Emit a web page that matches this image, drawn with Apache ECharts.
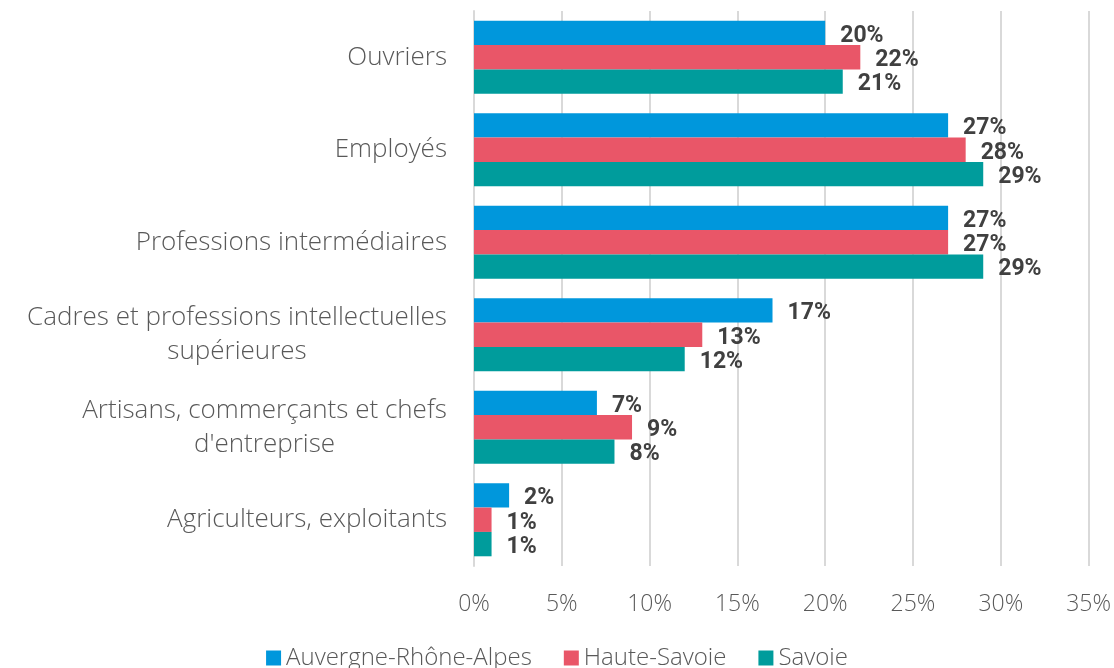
<!DOCTYPE html>
<html>
<head>
<meta charset="utf-8">
<script src="https://cdn.jsdelivr.net/npm/echarts@6/dist/echarts.min.js"></script>
<style>
  html, body { margin: 0; padding: 0; background: #fff; }
  #chart { width: 1114px; height: 668px; }
</style>
</head>
<body>
<div id="chart"></div>
<script>
// catégories socioprofessionnelles (de haut en bas)
const categories = [
    'Ouvriers',
    'Employés',
    'Professions intermédiaires',
    'Cadres et professions intellectuelles\nsupérieures',
    'Artisans, commerçants et chefs\nd\'entreprise',
    'Agriculteurs, exploitants'
];
const seriesNames = ['Auvergne-Rhône-Alpes', 'Haute-Savoie', 'Savoie'];
const araValues = [20, 27, 27, 17, 7, 2];
const hauteSavoieValues = [22, 28, 27, 13, 9, 1];
const savoieValues = [21, 29, 29, 12, 8, 1];
const colors = ['#0097DC', '#E95668', '#009C9C'];

const LABEL_FONT = 'Open Sans';
const LABEL_WEIGHT = 300;
const LABEL_SIZE = 26;

const chart = echarts.init(document.getElementById('chart'));

// style commun des étiquettes de valeur
const valueLabel = {
    show: true,
    position: 'right',
    distance: 15,
    formatter: '{c}%',
    color: '#404040',
    fontFamily: 'Roboto',
    fontWeight: 'bold',
    fontSize: 23,
    offset: [0, 3]
};

function makeSeries(name, data, color) {
    return {
        name: name,
        type: 'bar',
        data: data,
        barGap: '0%',
        barCategoryGap: '21%',
        itemStyle: { color: color },
        label: valueLabel
    };
}

// mesure du texte pour centrer les lignes des libellés sur deux lignes
const measureCtx = document.createElement('canvas').getContext('2d');
measureCtx.font = LABEL_WEIGHT + ' ' + LABEL_SIZE + 'px ' + LABEL_FONT;
const richStyles = {};
const labelMap = {};
categories.forEach((cat, i) => {
    const lines = cat.split('\n');
    if (lines.length < 2) return;
    const w = Math.ceil(Math.max(...lines.map(l => measureCtx.measureText(l).width)));
    const key = 'c' + i;
    richStyles[key] = {
        width: w, align: 'center',
        fontSize: LABEL_SIZE, fontWeight: LABEL_WEIGHT, fontFamily: LABEL_FONT,
        color: '#595959', lineHeight: 34
    };
    labelMap[cat] = lines.map(l => '{' + key + '|' + l + '}').join('\n');
});

const option = {
    animation: false,
    textStyle: { fontFamily: LABEL_FONT },
    grid: { left: 474, right: 24, top: 11, bottom: 102, containLabel: false },
    legend: {
        top: 641,
        left: 'center',
        itemWidth: 15,
        itemHeight: 15,
        itemGap: 32,
        itemTextGap: 5,
        icon: 'rect',
        textStyle: { color: '#595959', fontSize: 24, fontWeight: LABEL_WEIGHT, fontFamily: LABEL_FONT },
        data: seriesNames
    },
    xAxis: {
        type: 'value',
        min: 0,
        max: 35,
        interval: 5,
        axisLine: { show: false },
        axisTick: { show: false },
        splitLine: { lineStyle: { color: '#D9D9D9', width: 2 } },
        axisLabel: {
            formatter: '{value}%',
            color: '#595959',
            fontSize: 23,
            fontWeight: LABEL_WEIGHT,
            margin: 27
        }
    },
    yAxis: {
        type: 'category',
        inverse: true,
        data: categories,
        axisLine: { show: true, lineStyle: { color: '#D9D9D9', width: 2 } },
        axisTick: { show: false },
        axisLabel: {
            color: '#595959',
            fontSize: LABEL_SIZE,
            fontWeight: LABEL_WEIGHT,
            margin: 27,
            lineHeight: 34,
            formatter: v => labelMap[v] || v,
            rich: richStyles
        }
    },
    series: [
        makeSeries(seriesNames[0], araValues, colors[0]),
        makeSeries(seriesNames[1], hauteSavoieValues, colors[1]),
        makeSeries(seriesNames[2], savoieValues, colors[2])
    ]
};

chart.setOption(option);
</script>
</body>
</html>
